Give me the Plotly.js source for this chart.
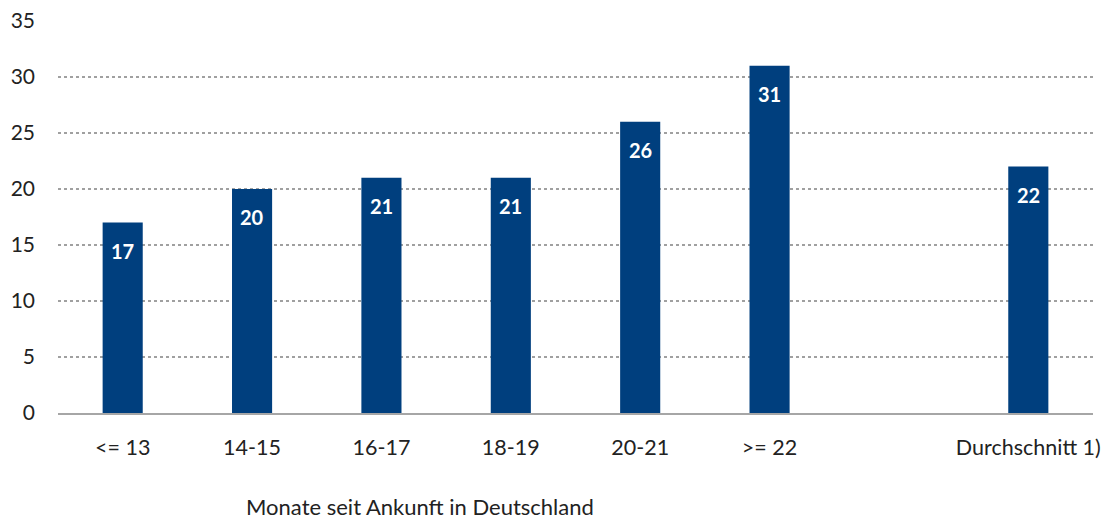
<!DOCTYPE html>
<html>
<head>
<meta charset="utf-8">
<script src="https://cdn.plot.ly/plotly-3.0.1.min.js"></script>
<style>html,body{margin:0;padding:0;background:#fff;}#chart{width:1109px;height:521px;}</style>
</head>
<body>
<div id="chart"></div>
<script>
const categories = ['<= 13', '14-15', '16-17', '18-19', '20-21', '>= 22', ' ', 'Durchschnitt 1)'];
const values = [17, 20, 21, 21, 26, 31, null, 22];
const yTicks = [0, 5, 10, 15, 20, 25, 30, 35];
const axisTitle = 'Monate seit Ankunft in Deutschland';

const barColor = '#003f7e';
const fontFamily = 'Lato, "Open Sans", sans-serif';

const labelAnnotations = categories.map((c, i) => values[i] == null ? null : ({
  x: c, y: values[i], xref: 'x', yref: 'y', text: '<b>' + values[i] + '</b>',
  showarrow: false, yshift: -28, font: {family: fontFamily, size: 20, color: '#ffffff'}
})).filter(a => a);

labelAnnotations.push({
  x: 0.35, xref: 'paper', y: 0, yref: 'paper', yanchor: 'middle', yshift: -93,
  borderpad: 0,
  text: axisTitle, showarrow: false, font: {family: fontFamily, size: 22, color: '#222222'}
});

Plotly.newPlot('chart', [{
  type: 'bar', x: categories, y: values, marker: {color: barColor}, width: 0.31,
  hoverinfo: 'none'
}], {
  width: 1109, height: 521,
  margin: {l: 58, r: 16, t: 21, b: 108},
  paper_bgcolor: '#ffffff', plot_bgcolor: '#ffffff',
  showlegend: false,
  font: {family: fontFamily, size: 21, color: '#222222'},
  xaxis: {
    type: 'category', categoryorder: 'array', categoryarray: categories,
    range: [-0.5, 7.5], showgrid: false, zeroline: false, showline: true,
    linecolor: '#a6a6a6', linewidth: 1.5, ticks: '', ticklabelstandoff: 15,
    tickfont: {family: fontFamily, size: 21.5, color: '#222222'}, fixedrange: true
  },
  yaxis: {
    range: [0, 35], tickvals: yTicks, ticktext: yTicks.map(String),
    showgrid: true, gridcolor: '#a0a0a0', griddash: 'dot', gridwidth: 1.5,
    zeroline: false, showline: false, ticks: '', ticklabelstandoff: 22,
    tickfont: {family: fontFamily, size: 21, color: '#222222'}, fixedrange: true
  },
  annotations: labelAnnotations
}, {displayModeBar: false, staticPlot: true});
</script>
</body>
</html>
